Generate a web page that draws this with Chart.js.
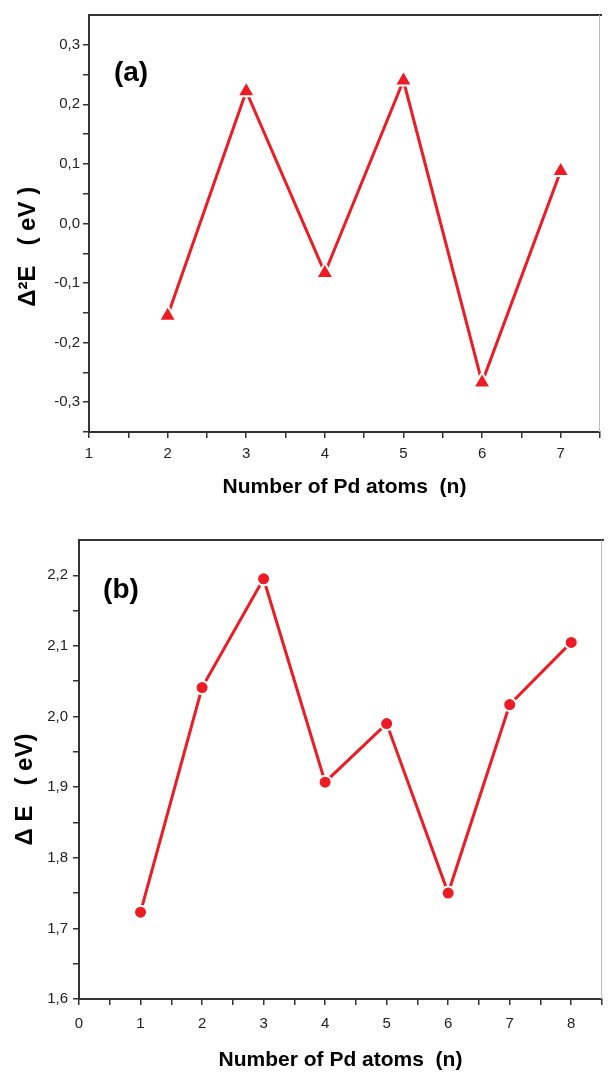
<!DOCTYPE html>
<html>
<head>
<meta charset="utf-8">
<script src="https://cdn.jsdelivr.net/npm/chart.js@4"></script>
<style>
  html, body { margin: 0; padding: 0; background: #fff; }
  body { width: 612px; height: 1072px; position: relative; overflow: hidden; }
  .wrap { position: absolute; left: 0; width: 612px; }
  #wa { top: 0; height: 520px; }
  #wb { top: 520px; height: 552px; }
</style>
</head>
<body>
<div class="wrap" id="wa"><canvas id="ca" width="612" height="520"></canvas></div>
<div class="wrap" id="wb"><canvas id="cb" width="612" height="552"></canvas></div>
<script>
// ---- data ----
const atomsA = [2, 3, 4, 5, 6, 7];
const secondDiffA = [-0.155, 0.222, -0.083, 0.240, -0.267, 0.088];
const atomsB = [1, 2, 3, 4, 5, 6, 7, 8];
const gapB = [1.723, 2.041, 2.195, 1.907, 1.990, 1.750, 2.017, 2.105];
const xTitle = 'Number of Pd atoms  (n)';
const yTitleA = 'Δ²E   ( eV )';
const yTitleB = 'Δ E   ( eV)';
const panelA = '(a)';
const panelB = '(b)';

const RED = 'rgb(237,28,36)';
const AX = '#333';
const FONT = '"Liberation Sans", Arial, sans-serif';

function comma(v, digits) {
  return v.toFixed(digits).replace('.', ',');
}

const framePlugin = {
  id: 'frame',
  afterDraw(chart, args, opts) {
    const {ctx, chartArea: a} = chart;
    ctx.save();
    ctx.strokeStyle = AX;
    ctx.lineWidth = 2;
    ctx.beginPath();
    ctx.moveTo(a.left, a.top);
    ctx.lineTo(a.right + 2, a.top);
    ctx.stroke();
    ctx.strokeStyle = '#bbb';
    ctx.lineWidth = 1;
    ctx.beginPath();
    ctx.moveTo(a.right - 0.5, a.top);
    ctx.lineTo(a.right - 0.5, a.bottom);
    ctx.stroke();
    ctx.fillStyle = '#000';
    ctx.font = 'bold 28px ' + FONT;
    ctx.textAlign = 'center';
    ctx.textBaseline = 'middle';
    ctx.fillText(opts.label, a.left + opts.dx, a.top + opts.dy);
    ctx.restore();
  }
};

function makeChart(id, xs, ys, cfg) {
  const pts = xs.map((x, i) => ({x, y: ys[i]}));
  return new Chart(document.getElementById(id), {
    type: 'line',
    data: {
      datasets: [{
        data: pts,
        borderColor: RED,
        borderWidth: 3,
        backgroundColor: RED,
        pointBackgroundColor: RED,
        pointBorderColor: '#fff',
        pointBorderWidth: 2,
        pointRadius: cfg.pointRadius,
        pointStyle: cfg.pointStyle,
        tension: 0
      }]
    },
    plugins: [framePlugin],
    options: {
      responsive: false,
      animation: false,
      layout: { padding: { top: cfg.padTop, right: cfg.padRight, left: 0, bottom: 0 } },
      plugins: {
        legend: { display: false },
        tooltip: { enabled: false },
        frame: { label: cfg.panel, dx: cfg.panelDx, dy: cfg.panelDy }
      },
      scales: {
        x: {
          type: 'linear',
          min: cfg.xMin, max: cfg.xMax,
          afterFit(s) { s.height = cfg.xAxisH; },
          border: { color: AX, width: 2 },
          grid: { drawOnChartArea: false, drawTicks: true, tickLength: 6, color: AX, lineWidth: 1.5 },
          ticks: {
            stepSize: 0.5, autoSkip: false, maxRotation: 0,
            color: '#222', padding: cfg.xTickPad,
            font: { family: FONT, size: 15 },
            callback: v => Math.abs(v - Math.round(v)) < 1e-6 ? String(Math.round(v)) : ''
          },
          title: {
            display: true, text: xTitle, color: '#000',
            font: { family: FONT, size: 21, weight: 'bold', lineHeight: 1 },
            padding: { top: 0, bottom: cfg.xTitlePad }
          }
        },
        y: {
          min: cfg.yMin, max: cfg.yMax,
          afterFit(s) { s.width = cfg.yAxisW; },
          border: { color: AX, width: 2 },
          grid: {
            drawOnChartArea: false, drawTicks: true, tickLength: 6, lineWidth: 1.5,
            color: c => (c.tick && Math.abs(c.tick.value - cfg.yMax) < 1e-6) ? 'rgba(0,0,0,0)' : AX
          },
          ticks: {
            stepSize: 0.05, autoSkip: false,
            color: '#222', padding: cfg.yTickPad,
            font: { family: FONT, size: 15 },
            callback: v => {
              const k = Math.round(v * 100);
              return (k % 10 === 0) ? comma(k / 100, 1) : '';
            }
          },
          title: {
            display: true, text: cfg.yTitle, color: '#000',
            font: { family: FONT, size: 24, weight: 'bold', lineHeight: 1 },
            padding: { top: cfg.yTitlePad, bottom: 0 }
          }
        }
      }
    }
  });
}

makeChart('ca', atomsA, secondDiffA, {
  pointStyle: 'triangle', pointRadius: 10,
  padTop: 15, padRight: 1,
  xMin: 1, xMax: 7.5, yMin: -0.35, yMax: 0.35,
  xAxisH: 88, yAxisW: 89,
  xTickPad: 7, yTickPad: 3, xTitlePad: 22, yTitlePad: 16,
  yTitle: yTitleA + '\u00a0\u00a0\u00a0\u00a0\u00a0\u00a0\u00a0', panel: panelA, panelDx: 42, panelDy: 58
});

makeChart('cb', atomsB, gapB, {
  pointStyle: 'circle', pointRadius: 6.5,
  padTop: 20, padRight: 0,
  xMin: 0, xMax: 8.5, yMin: 1.6, yMax: 2.25,
  xAxisH: 73, yAxisW: 79,
  xTickPad: 10, yTickPad: 5, xTitlePad: 1, yTitlePad: 13,
  yTitle: yTitleB + '\u00a0\u00a0\u00a0\u00a0\u00a0\u00a0', panel: panelB, panelDx: 42, panelDy: 50
});
</script>
</body>
</html>
